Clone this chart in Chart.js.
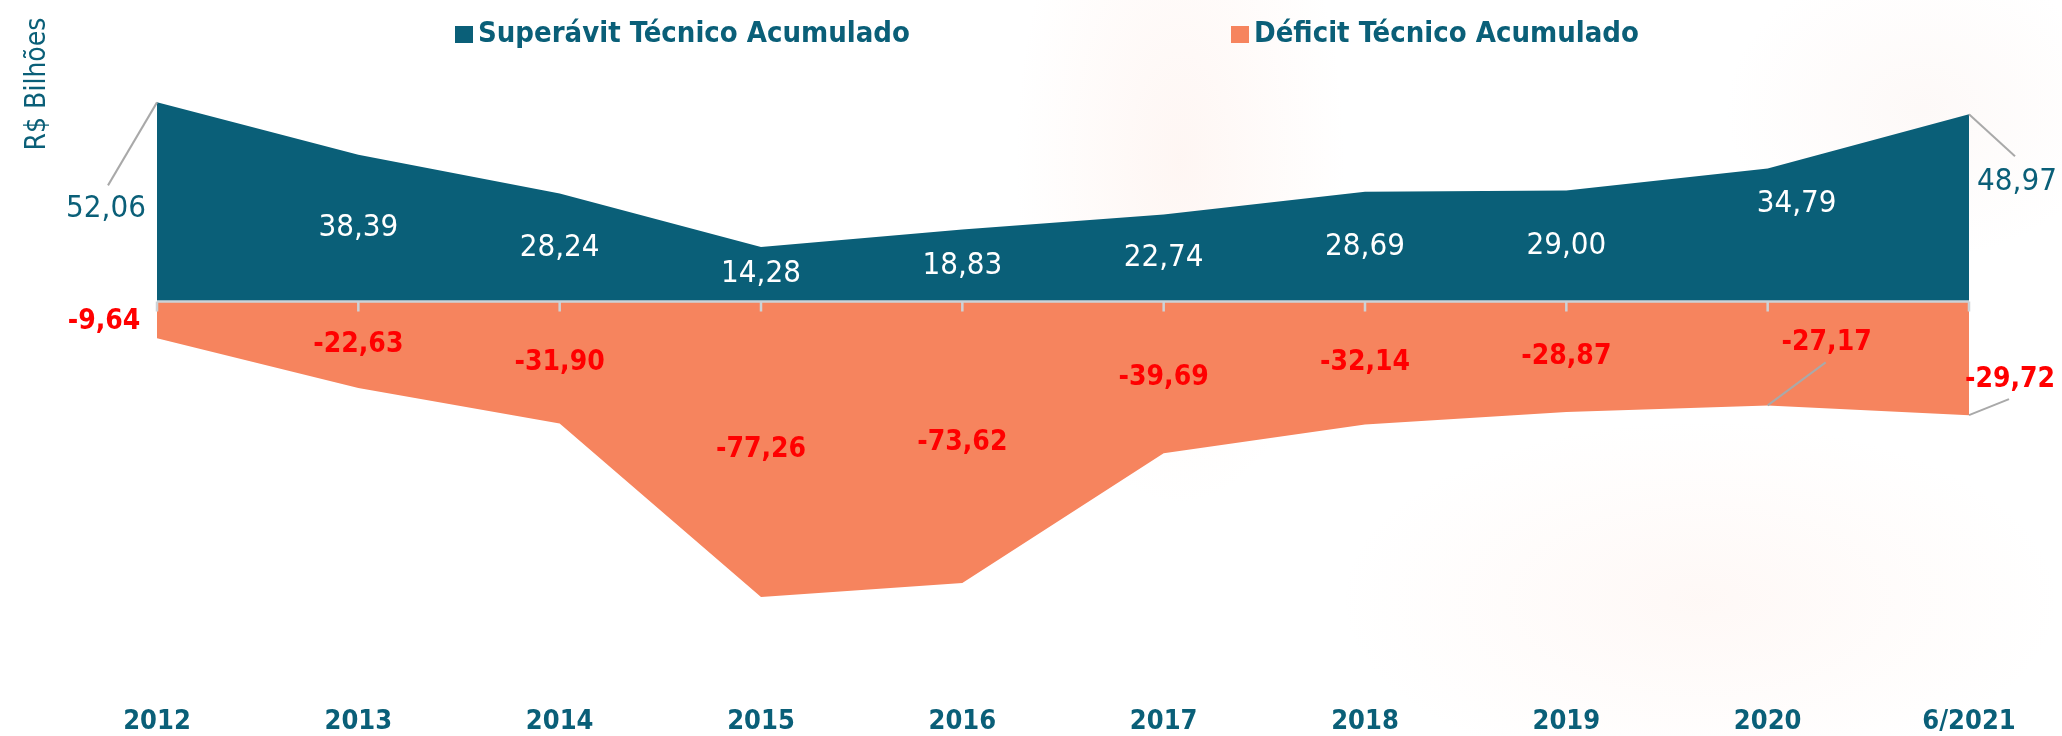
<!DOCTYPE html>
<html lang="pt-BR">
<head>
<meta charset="utf-8">
<title>Superávit e Déficit Técnico Acumulado</title>
<script src="https://cdn.jsdelivr.net/npm/chart.js@4.4.1/dist/chart.umd.min.js"></script>
<style>
    html, body {
        margin: 0;
        padding: 0;
        width: 2062px;
        height: 736px;
        overflow: hidden;
        background:
            radial-gradient(ellipse 220px 460px at 1180px 160px, rgba(250, 200, 182, 0.16), rgba(255, 255, 255, 0) 75%),
            radial-gradient(ellipse 480px 240px at 1700px 600px, rgba(250, 200, 182, 0.12), rgba(255, 255, 255, 0) 75%),
            radial-gradient(ellipse 260px 200px at 1920px 110px, rgba(240, 205, 195, 0.12), rgba(255, 255, 255, 0) 75%),
            #ffffff;
    }
    #wrap { position: relative; width: 2062px; height: 736px; }
</style>
</head>
<body>
<div id="wrap">
    <canvas id="chart-deficit" width="2062" height="736"></canvas>
</div>
<script>
    // Dados (R$ bilhões)
    const periods = ['2012', '2013', '2014', '2015', '2016', '2017', '2018', '2019', '2020', '6/2021'];
    const superavit = [52.06, 38.39, 28.24, 14.28, 18.83, 22.74, 28.69, 29.00, 34.79, 48.97];
    const deficit = [-9.64, -22.63, -31.90, -77.26, -73.62, -39.69, -32.14, -28.87, -27.17, -29.72];

    const TEAL = '#0a5f78';
    const ORANGE = '#f6845e';
    const RED = '#ff0000';
    const FONT = '"DejaVu Sans Condensed", "Liberation Sans Narrow", "DejaVu Sans", sans-serif';

    const fmt = v => v.toFixed(2).replace('.', ',');

    // Labels moved by hand in the original (offsets in px from the anchor)
    // anchor 'point' = the area edge, 'mid' = half way between value and zero
    const labelMoves = {
        0: {
            0: { anchor: 'point', dx: -51, dy: 107, color: TEAL, lead: [-49, 83] },
            8: { anchor: 'mid', dx: 29, dy: -31 },
            9: { anchor: 'point', dx: 48, dy: 68, color: TEAL, lead: [46, 42] }
        },
        1: {
            0: { anchor: 'point', dx: -53, dy: -17 },
            8: { anchor: 'point', dx: 59, dy: -63, lead: [58, -43] },
            9: { anchor: 'point', dx: 41, dy: -35, lead: [40, -16] }
        }
    };

    const zeroAxis = {
        id: 'zeroAxis',
        afterDatasetsDraw(chart) {
            const { ctx, chartArea, scales } = chart;
            const y0 = scales.y.getPixelForValue(0);
            ctx.save();
            ctx.strokeStyle = '#cdd2d6';
            ctx.lineWidth = 2.5;
            ctx.beginPath();
            ctx.moveTo(chartArea.left, y0);
            ctx.lineTo(chartArea.right, y0);
            scales.x.ticks.forEach((t, i) => {
                const x = scales.x.getPixelForTick(i);
                ctx.moveTo(x, y0);
                ctx.lineTo(x, y0 + 10);
            });
            ctx.stroke();
            ctx.restore();
        }
    };

    const valueLabels = {
        id: 'valueLabels',
        afterDatasetsDraw(chart) {
            const { ctx, scales } = chart;
            const y0 = scales.y.getPixelForValue(0);
            ctx.save();
            ctx.textAlign = 'center';
            ctx.textBaseline = 'middle';
            chart.data.datasets.forEach((ds, di) => {
                ds.data.forEach((v, i) => {
                    const x = scales.x.getPixelForValue(i);
                    const yv = scales.y.getPixelForValue(v);
                    const move = (labelMoves[di] || {})[i];
                    let tx = x, ty = (yv + y0) / 2;
                    if (move) {
                        const ay = move.anchor === 'point' ? yv : ty;
                        tx = x + move.dx;
                        ty = ay + move.dy;
                        if (move.lead) {
                            ctx.strokeStyle = '#a9a9a9';
                            ctx.lineWidth = 2;
                            ctx.beginPath();
                            ctx.moveTo(x, yv);
                            ctx.lineTo(x + move.lead[0], ay + move.lead[1]);
                            ctx.stroke();
                        }
                    }
                    if (di === 0) {
                        ctx.font = '31px ' + FONT;
                        ctx.fillStyle = (move && move.color) || '#ffffff';
                    } else {
                        ctx.font = 'bold 28px ' + FONT;
                        ctx.fillStyle = RED;
                    }
                    ctx.fillText(fmt(v), tx, ty);
                });
            });
            ctx.restore();
        }
    };

    // Legend + axis title drawn by hand (legend items are far apart in the original)
    const headerText = {
        id: 'headerText',
        afterDraw(chart) {
            const { ctx } = chart;
            const itemX = [455, 1231];
            ctx.save();
            ctx.textBaseline = 'middle';
            ctx.textAlign = 'left';
            ctx.font = 'bold 29px ' + FONT;
            chart.data.datasets.forEach((ds, i) => {
                ctx.fillStyle = ds.backgroundColor;
                ctx.fillRect(itemX[i], 26, 18, 17);
                ctx.fillStyle = TEAL;
                ctx.fillText(ds.label, itemX[i] + 23, 34);
            });

            ctx.translate(38, 84);
            ctx.rotate(-Math.PI / 2);
            ctx.textAlign = 'center';
            ctx.font = '28px ' + FONT;
            ctx.fillStyle = TEAL;
            ctx.fillText('R$ Bilhões', 0, 0);
            ctx.restore();
        }
    };

    const ctx = document.getElementById('chart-deficit').getContext('2d');
    new Chart(ctx, {
        type: 'line',
        data: {
            labels: periods,
            datasets: [
                {
                    label: 'Superávit Técnico Acumulado',
                    data: superavit,
                    backgroundColor: TEAL,
                    borderWidth: 0,
                    pointRadius: 0,
                    tension: 0,
                    fill: 'origin'
                },
                {
                    label: 'Déficit Técnico Acumulado',
                    data: deficit,
                    backgroundColor: ORANGE,
                    borderWidth: 0,
                    pointRadius: 0,
                    tension: 0,
                    fill: 'origin'
                }
            ]
        },
        options: {
            responsive: false,
            animation: false,
            layout: {
                padding: { top: 72, left: 157, right: 93, bottom: 0 }
            },
            scales: {
                x: {
                    offset: false,
                    grid: { display: false, drawTicks: false },
                    border: { display: false },
                    afterFit(scale) { scale.height = 52; },
                    ticks: {
                        padding: 22,
                        color: TEAL,
                        font: { family: FONT, size: 27, weight: 'bold' },
                        maxRotation: 0
                    }
                },
                y: {
                    display: false,
                    min: -100,
                    max: 60
                }
            },
            plugins: {
                legend: { display: false },
                tooltip: { enabled: false }
            }
        },
        plugins: [zeroAxis, valueLabels, headerText]
    });
</script>
</body>
</html>
